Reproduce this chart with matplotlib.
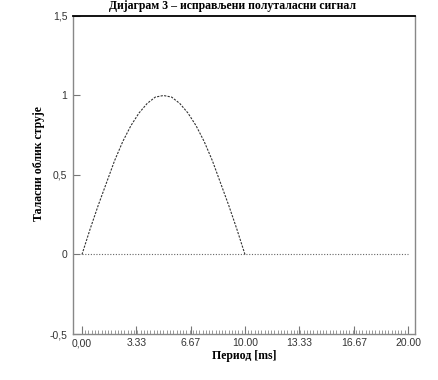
import matplotlib.pyplot as plt
from matplotlib.ticker import FixedLocator

# -----------------------------
# Podaci
# -----------------------------
vreme_ms = [0.0, 0.5, 1.0, 1.5, 2.0, 2.5, 3.0, 3.5, 4.0, 4.5, 5.0,
            5.5, 6.0, 6.5, 7.0, 7.5, 8.0, 8.5, 9.0, 9.5, 10.0]
struja = [0.00, 0.16, 0.31, 0.45, 0.59, 0.71, 0.81, 0.89, 0.95, 0.99, 1.00,
          0.99, 0.95, 0.89, 0.81, 0.71, 0.59, 0.45, 0.31, 0.16, 0.00]
nula_x = [0.0, 20.0]
nula_y = [0.0, 0.0]

x_ticks = [0.0, 3.33, 6.67, 10.0, 13.33, 16.67, 20.0]
x_labels = ["0,00", "3.33", "6.67", "10.00", "13.33", "16.67", "20.00"]
y_ticks = [-0.5, 0.0, 0.5, 1.0, 1.5]
y_labels = ["-0,5", "0", "0,5", "1", "1,5"]

# -----------------------------
# Grafik
# -----------------------------
fig = plt.figure(figsize=(4.39, 3.80), dpi=100)
ax = fig.add_axes([73 / 439, 1 - 334 / 380, (415 - 73) / 439, (334 - 16) / 380])

ax.plot(nula_x, nula_y, color="#666666", lw=0.8, linestyle=(0, (1, 1.5)))
ax.plot(vreme_ms, struja, color="#333333", lw=0.8, linestyle=(0, (2, 1.2)))

ax.set_xlim(-0.55, 20.43)
ax.set_ylim(-0.5, 1.5)

ax.xaxis.set_major_locator(FixedLocator(x_ticks))
ax.set_xticklabels(x_labels)
ax.xaxis.set_minor_locator(FixedLocator([i * 0.2 for i in range(1, 100)]))
ax.yaxis.set_major_locator(FixedLocator(y_ticks))
ax.set_yticklabels(y_labels)

ax.tick_params(axis="x", which="major", direction="in", length=6, width=0.8,
               color="#777777", labelsize=7.5, pad=3)
ax.tick_params(axis="x", which="minor", direction="in", length=3, width=0.6,
               color="#888888")
ax.tick_params(axis="y", which="major", direction="in", length=5, width=0.8,
               color="#777777", labelsize=7.5, pad=4)
for lab in ax.get_xticklabels() + ax.get_yticklabels():
    lab.set_fontfamily("Liberation Sans")
    lab.set_color("#333333")

for s in ["left", "bottom", "right"]:
    ax.spines[s].set_color("#888888")
    ax.spines[s].set_linewidth(1.0)
ax.spines["top"].set_color("black")
ax.spines["top"].set_linewidth(1.3)

ax.set_xlabel("Период [ms]", fontfamily="Liberation Serif", fontweight="bold",
              fontsize=8.5, labelpad=1)
ax.set_ylabel("Таласни облик струје", fontfamily="Liberation Serif",
              fontweight="bold", fontsize=8.5)
ax.yaxis.set_label_coords(-0.082, 0.535)

fig.text(0.53, 0.983, "Дијаграм 3 – исправљени полуталасни сигнал",
         ha="center", va="center", fontfamily="Liberation Serif",
         fontweight="bold", fontsize=8.5)

fig.savefig("out.png", dpi=100)
